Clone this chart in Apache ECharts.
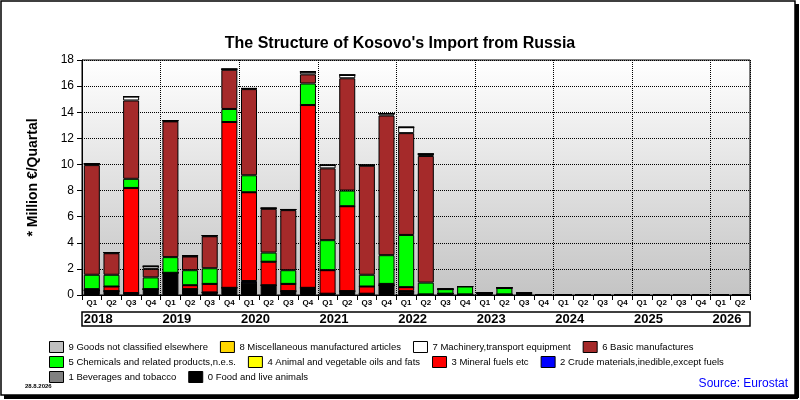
<!DOCTYPE html>
<html><head><meta charset="utf-8">
<script src="https://cdn.jsdelivr.net/npm/echarts@6/dist/echarts.min.js"></script>
<style>body{margin:0;background:#fff}#c{width:800px;height:400px}</style></head>
<body><div id="c"></div>
<script>
const quarters = ['2018Q1','2018Q2','2018Q3','2018Q4','2019Q1','2019Q2','2019Q3','2019Q4','2020Q1','2020Q2','2020Q3','2020Q4','2021Q1','2021Q2','2021Q3','2021Q4','2022Q1','2022Q2','2022Q3','2022Q4','2023Q1','2023Q2','2023Q3','2023Q4','2024Q1','2024Q2','2024Q3','2024Q4','2025Q1','2025Q2','2025Q3','2025Q4','2026Q1','2026Q2'];
const food      = [0.35,0.3,0.15,0.45,1.7,0.45,0.2,0.55,0.95,0.75,0.3,0.55,0.1,0.3,0.1,0.75,0.25,0.05,0.1,0.05,0.15,0.05,0,0,0,0,0,0,0,0,0,0,0,0];
const beverages = new Array(34).fill(0);
const crude     = [0,0,0,0,0,0,0,0,0.12,0,0,0,0,0,0,0,0.05,0,0,0,0,0,0,0,0,0,0,0,0,0,0,0,0,0];
const mineral   = [0.1,0.35,8.05,0,0,0.3,0.65,12.7,6.8,1.8,0.55,14.0,1.8,6.5,0.55,0.1,0.3,0,0,0,0,0,0,0,0,0,0,0,0,0,0,0,0,0];
const animal    = new Array(34).fill(0);
const chemicals = [1.1,0.9,0.7,0.9,1.2,1.15,1.2,1.0,1.3,0.7,1.05,1.65,2.3,1.2,0.9,2.2,4.0,0.9,0.35,0.6,0,0.5,0.15,0,0,0,0,0,0,0,0,0,0,0];
const basic     = [8.4,1.65,6.0,0.65,10.4,1.05,2.45,3.0,6.6,3.35,4.6,0.7,5.5,8.6,8.35,10.7,7.8,9.7,0,0,0,0,0,0,0,0,0,0,0,0,0,0,0,0];
const machinery = [0.1,0.05,0.3,0.2,0.05,0.05,0.05,0.05,0.05,0.05,0.05,0.2,0.25,0.25,0.05,0.15,0.45,0.15,0,0,0,0,0,0,0,0,0,0,0,0,0,0,0,0];
const misc      = new Array(34).fill(0);
const other     = new Array(34).fill(0);

const defs = [
 ['0 Food and live animals', '#000000', food],
 ['1 Beverages and tobacco', '#808080', beverages],
 ['2 Crude materials,inedible,except fuels', '#0000ff', crude],
 ['3 Mineral fuels etc', '#ff0000', mineral],
 ['4 Animal and vegetable oils and fats', '#ffff00', animal],
 ['5 Chemicals and related products,n.e.s.', '#00ff00', chemicals],
 ['6 Basic manufactures', '#a52a2a', basic],
 ['7 Machinery,transport equipment', '#ffffff', machinery],
 ['8 Miscellaneous manufactured articles', '#ffd700', misc],
 ['9 Goods not classified elsewhere', '#c0c0c0', other]
];
const series = defs.map(d => ({
  name: d[0], type: 'bar', stack: 'a', data: d[2], barWidth: 16,
  itemStyle: {color: d[1], borderColor: '#000', borderWidth: 1},
  xAxisIndex: 0
}));
const legBase = {icon: 'rect', itemWidth: 14, itemHeight: 11, itemGap: 12, left: 44, width: 750, orient: 'horizontal',
  textStyle: {fontSize: 9.5, color: '#000', fontFamily: 'Liberation Sans'},
  itemStyle: {borderColor: '#000', borderWidth: 1}};
const chart = echarts.init(document.getElementById('c'));
chart.setOption({
  animation: false,
  backgroundColor: '#fff',
  textStyle: {fontFamily: 'Liberation Sans'},
  title: {text: "The Structure of Kosovo's Import from Russia", left: 'center', top: 31,
    textStyle: {fontSize: 16, fontWeight: 'bold', color: '#000'}},
  grid: {left: 82, right: 50, top: 60, bottom: 105, show: true, borderColor: '#000', borderWidth: 1,
    backgroundColor: new echarts.graphic.LinearGradient(0,0,0,1,[{offset:0,color:'#ffffff'},{offset:1,color:'#c4c4c4'}])},
  legend: [
    Object.assign({}, legBase, {top: 336, data: defs.slice(6).reverse().map(d=>d[0])}),
    Object.assign({}, legBase, {top: 351, data: defs.slice(2,6).reverse().map(d=>d[0])}),
    Object.assign({}, legBase, {top: 366, data: defs.slice(0,2).reverse().map(d=>d[0])})
  ],
  xAxis: [
    {type: 'category', data: quarters, axisLine: {lineStyle: {color: '#000'}},
     axisTick: {show: true, alignWithLabel: false, lineStyle: {color: '#000'}},
     axisLabel: {formatter: v => v.slice(4), fontSize: 8, fontWeight: 'bold', color: '#000', margin: 4, interval: 0},
     splitLine: {show: true, interval: (i) => i % 4 === 0 && i > 0, lineStyle: {color: '#000', type: 'dotted'}}},
    {type: 'category', data: quarters, position: 'bottom', offset: 16,
     axisLine: {show: false}, axisTick: {show: false},
     axisLabel: {interval: 0, formatter: v => v.endsWith('Q1') ? v.slice(0,4) : '', align: 'left',
       fontSize: 13, fontWeight: 'bold', color: '#000', margin: 2, padding: [0,0,0,-8]}}
  ],
  yAxis: {type: 'value', min: 0, max: 18, interval: 2,
    name: '* Million €/Quartal', nameLocation: 'middle', nameGap: 42, nameRotate: 90,
    nameTextStyle: {fontSize: 14, fontWeight: 'bold', color: '#000'},
    axisLine: {show: true, lineStyle: {color: '#000'}}, axisTick: {show: true, lineStyle: {color: '#000'}},
    axisLabel: {fontSize: 12, color: '#000'},
    splitLine: {lineStyle: {color: '#000', type: 'dotted'}}},
  graphic: [
    {type: 'rect', shape: {x: 82, y: 312, width: 668, height: 14}, style: {fill: 'none', stroke: '#000', lineWidth: 1.5}},
    {type: 'rect', shape: {x: 1, y: 1, width: 794, height: 394}, style: {fill: 'none', stroke: '#000', lineWidth: 1.5}},
    {type: 'rect', shape: {x: 4, y: 395, width: 794, height: 4}, style: {fill: '#000'}},
    {type: 'rect', shape: {x: 795, y: 4, width: 4, height: 394}, style: {fill: '#000'}},
    {type: 'text', left: 25, top: 383, style: {text: '28.8.2026', fontSize: 6, fontWeight: 'bold', fill: '#000'}},
    {type: 'text', right: 12, top: 378, style: {text: 'Source: Eurostat', fontSize: 12, fill: '#0000ff'}}
  ],
  series: series
});
</script></body></html>
